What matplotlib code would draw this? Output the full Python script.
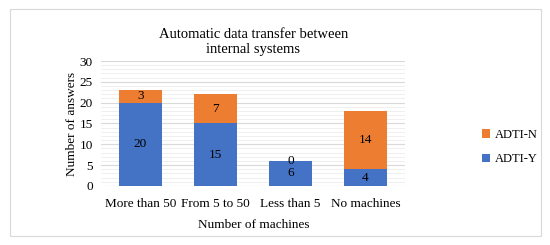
import matplotlib.pyplot as plt
import numpy as np
from matplotlib.patches import Rectangle

categories = ["More than 50", "From 5 to 50", "Less than 5", "No machines"]
adti_y = [20, 15, 6, 4]
adti_n = [3, 7, 0, 14]

blue = "#4472C4"
orange = "#ED7D31"

plt.rcParams["font.family"] = ["Liberation Serif", "DejaVu Serif"]

fig = plt.figure(figsize=(5.5, 2.45), dpi=100)
fig.patches.append(Rectangle((10 / 550, 9 / 245), 531 / 550, 227 / 245,
                             transform=fig.transFigure, fill=False,
                             edgecolor="#D9D9D9", linewidth=0.8))
ax = fig.add_axes([0.184, 0.241, 0.553, 0.51])

x = np.arange(len(categories))
width = 0.57
b1 = ax.bar(x, adti_y, width, color=blue, label="ADTI-Y", zorder=3)
b2 = ax.bar(x, adti_n, width, bottom=adti_y, color=orange, label="ADTI-N", zorder=3)
ax.bar_label(b1, labels=[str(v) for v in adti_y], label_type="center", fontsize=9.5)
ax.bar_label(b2, labels=[str(v) for v in adti_n], label_type="center", fontsize=9.5)

ax.set_xlim(-0.52, 3.53)
ax.set_ylim(0, 30)
ax.set_yticks(range(0, 31, 5))
ax.set_yticks(range(0, 31, 1), minor=True)
ax.grid(axis="y", which="major", color="#D9D9D9", linewidth=0.8, zorder=0)
ax.grid(axis="y", which="minor", color="#EDEDED", linewidth=0.6, zorder=0)
ax.tick_params(axis="y", which="both", length=0, labelsize=9.5, pad=6)
ax.tick_params(axis="x", length=0, labelsize=9.5, pad=9)
ax.set_xticks(x)
ax.set_xticklabels(categories)
for s in ax.spines.values():
    s.set_visible(False)

ax.set_xlabel("Number of machines", fontsize=9.5, labelpad=6)
ax.set_ylabel("Number of answers", fontsize=9.5, labelpad=1)
ax.set_title("Automatic data transfer between\ninternal systems", fontsize=10.5, pad=6, linespacing=1.2)

handles, labels = ax.get_legend_handles_labels()
fig.legend(handles[::-1], labels[::-1], loc="center left", bbox_to_anchor=(0.855, 0.40),
           frameon=False, fontsize=9, handlelength=0.7, handleheight=0.7,
           handletextpad=0.4, labelspacing=1.0)

fig.savefig("out.png", dpi=100)
